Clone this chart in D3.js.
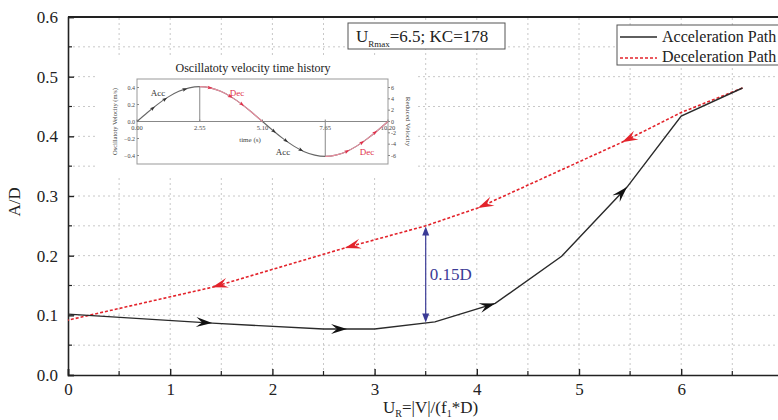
<!DOCTYPE html>
<html><head><meta charset="utf-8">
<script src="https://cdn.jsdelivr.net/npm/d3@7"></script>
<style>
html,body{margin:0;padding:0;background:#fff;}
svg{display:block;font-family:"Liberation Serif","Times New Roman",serif;}
</style></head>
<body>
<svg id="chart" width="778" height="420"></svg>
<script>
// ---- main data ----
const accU = [0, 1.41, 2.5, 3.0, 3.59, 4.18, 4.83, 5.47, 6.0, 6.6];
const accAD = [0.102, 0.087, 0.077, 0.077, 0.089, 0.12, 0.199, 0.315, 0.434, 0.481];
const decU = [6.6, 6.0, 5.42, 4.01, 3.5, 2.71, 1.41, 0];
const decAD = [0.481, 0.44, 0.39, 0.28, 0.25, 0.213, 0.147, 0.092];
const accArrowU = [1.41, 2.73, 4.18, 5.47];
const decArrowU = [5.42, 4.01, 2.71, 1.41];
const gapU = 3.5, gapLow = 0.088, gapHigh = 0.249, gapLabel = "0.15D";
const xTicks = [0, 1, 2, 3, 4, 5, 6];
const yTicks = [0.0, 0.1, 0.2, 0.3, 0.4, 0.5, 0.6];
const legendLabels = ["Acceleration Path", "Deceleration Path"];

// ---- inset data ----
const insetT = [0,0.425,0.85,1.275,1.7,2.125,2.55,2.975,3.4,3.825,4.25,4.675,5.1,5.525,5.95,6.375,6.8,7.225,7.65,8.075,8.5,8.925,9.35,9.775,10.2];
const insetV = [0,0.106,0.205,0.29,0.355,0.396,0.41,0.396,0.355,0.29,0.205,0.106,0,-0.106,-0.205,-0.29,-0.355,-0.396,-0.41,-0.396,-0.355,-0.29,-0.205,-0.106,0];
const insetTimeTicks = [0, 2.55, 5.10, 7.65, 10.20];
const insetTimeLabels = ["0.00", "2.55", "5.10", "7.65", "10.20"];
const insetLeftTicks = [0.4, 0.2, 0.0, -0.2, -0.4];
const insetRightTicks = [6, 4, 2, 0, -2, -4, -6];
const insetAccMarks = [0.65, 1.14, 1.95, 5.57, 6.06, 6.67];
const insetDecMarks = [2.97, 3.8, 4.27, 8.54, 9.15, 9.68];
const decRanges = [[2.55, 5.1], [7.65, 10.2]];

const svg = d3.select("#chart");
const x = d3.scaleLinear().domain([0, 7]).range([68, 783.4]);
const y = d3.scaleLinear().domain([0, 0.6]).range([375, 17]);

// grid
const grid = svg.append("g").attr("stroke", "#c8c8c8").attr("stroke-dasharray", "2,3").attr("stroke-width", 1);
d3.range(1, 14).map(i => i * 0.5).forEach(u => {
  grid.append("line").attr("x1", x(u)).attr("x2", x(u)).attr("y1", y(0)).attr("y2", y(0.6));
});
d3.range(1, 12).map(i => i * 0.05).forEach(v => {
  grid.append("line").attr("x1", x(0)).attr("x2", 783).attr("y1", y(v)).attr("y2", y(v));
});

// axes
const xAxis = d3.axisBottom(x).tickValues(xTicks).tickSize(-6).tickPadding(8).tickFormat(d3.format("d"));
const gx = svg.append("g").attr("transform", `translate(0,${y(0)})`).call(xAxis);
const yAxis = d3.axisLeft(y).tickValues(yTicks).tickSize(-6).tickPadding(10).tickFormat(d3.format(".1f"));
const gy = svg.append("g").attr("transform", `translate(${x(0)},0)`).call(yAxis);
[gx, gy].forEach(g => {
  g.attr("font-family", null);
  g.select(".domain").attr("stroke", "#222").attr("stroke-width", 1.6);
  g.selectAll(".tick line").attr("stroke", "#222").attr("stroke-width", 1.4);
  g.selectAll("text").attr("font-size", 17).attr("fill", "#222").attr("font-family", "Liberation Serif, serif");
});
// minor ticks
d3.range(0, 7).map(i => i + 0.5).forEach(u => {
  svg.append("line").attr("x1", x(u)).attr("x2", x(u)).attr("y1", y(0)).attr("y2", y(0) - 4).attr("stroke", "#222").attr("stroke-width", 1.2);
});
d3.range(0, 6).map(i => i * 0.1 + 0.05).forEach(v => {
  svg.append("line").attr("x1", x(0)).attr("x2", x(0) + 4).attr("y1", y(v)).attr("y2", y(v)).attr("stroke", "#222").attr("stroke-width", 1.2);
});
// top frame
svg.append("line").attr("x1", x(0)).attr("x2", 783).attr("y1", y(0.6)).attr("y2", y(0.6)).attr("stroke", "#222").attr("stroke-width", 2);

// axis titles
svg.append("text").attr("transform", `translate(20,${y(0.29)}) rotate(-90)`).attr("text-anchor", "middle")
  .attr("font-size", 17).attr("fill", "#222").text("A/D");
const xt = svg.append("text").attr("x", 383).attr("y", 413).attr("font-size", 17).attr("fill", "#222");
xt.append("tspan").text("U");
xt.append("tspan").attr("font-size", 10).attr("dy", 4).text("R");
xt.append("tspan").attr("dy", -4).text("=|V|/(f");
xt.append("tspan").attr("font-size", 10).attr("dy", 4).text("1");
xt.append("tspan").attr("dy", -4).text("*D)");

// lines
const accData = accU.map((u, i) => [u, accAD[i]]);
const decData = decU.map((u, i) => [u, decAD[i]]);
const line = d3.line().x(d => x(d[0])).y(d => y(d[1]));
svg.append("path").attr("d", line(decData)).attr("fill", "none").attr("stroke", "#e3232b").attr("stroke-width", 1.6).attr("stroke-dasharray", "3,2");
svg.append("path").attr("d", line(accData)).attr("fill", "none").attr("stroke", "#2a2a2a").attr("stroke-width", 1.4);

function pointOn(data, u) {
  for (let i = 0; i < data.length - 1; i++) {
    const a = data[i], b = data[i + 1];
    const lo = Math.min(a[0], b[0]), hi = Math.max(a[0], b[0]);
    if (u >= lo && u <= hi) {
      const t = (u - a[0]) / (b[0] - a[0]);
      const px = x(a[0]) + t * (x(b[0]) - x(a[0]));
      const py = y(a[1]) + t * (y(b[1]) - y(a[1]));
      const ang = Math.atan2(y(b[1]) - y(a[1]), x(b[0]) - x(a[0])) * 180 / Math.PI;
      return [px, py, ang];
    }
  }
  return [x(u), y(0), 0];
}
const arrowPath = "M0,0 L-16,-5 L-10,0 L-16,5 Z";
accArrowU.forEach(u => {
  const [px, py, a] = pointOn(accData, u);
  svg.append("path").attr("d", arrowPath).attr("fill", "#111").attr("transform", `translate(${px},${py}) rotate(${a})`);
});
decArrowU.forEach(u => {
  const [px, py, a] = pointOn(decData, u);
  svg.append("path").attr("d", arrowPath).attr("fill", "#e3232b").attr("transform", `translate(${px},${py}) rotate(${a})`);
});

// gap double arrow
const navy = "#3b3b96";
svg.append("line").attr("x1", x(gapU)).attr("x2", x(gapU)).attr("y1", y(gapLow) - 3).attr("y2", y(gapHigh) + 3).attr("stroke", navy).attr("stroke-width", 1.2);
svg.append("path").attr("d", `M${x(gapU)},${y(gapLow)} l-3.5,-9 l7,0 Z`).attr("fill", navy);
svg.append("path").attr("d", `M${x(gapU)},${y(gapHigh)} l-3.5,9 l7,0 Z`).attr("fill", navy);
svg.append("text").attr("x", x(gapU) + 4).attr("y", (y(gapLow) + y(gapHigh)) / 2 + 6).attr("font-size", 17).attr("fill", navy).text(gapLabel);

// annotation box
svg.append("rect").attr("x", 348).attr("y", 23).attr("width", 157).attr("height", 26).attr("fill", "#fff").attr("stroke", "#555").attr("stroke-width", 1);
const at = svg.append("text").attr("x", 356).attr("y", 42).attr("font-size", 17).attr("fill", "#222");
at.append("tspan").text("U");
at.append("tspan").attr("font-size", 9).attr("dy", 5).text("Rmax");
at.append("tspan").attr("dy", -5).text("=6.5; KC=178");

// legend
svg.append("rect").attr("x", 617).attr("y", 25).attr("width", 170).attr("height", 40).attr("fill", "#fff").attr("stroke", "#555").attr("stroke-width", 1);
svg.append("line").attr("x1", 620).attr("x2", 657).attr("y1", 37).attr("y2", 37).attr("stroke", "#2a2a2a").attr("stroke-width", 1.4);
svg.append("line").attr("x1", 620).attr("x2", 657).attr("y1", 58).attr("y2", 58).attr("stroke", "#e3232b").attr("stroke-width", 1.6).attr("stroke-dasharray", "3,2");
legendLabels.forEach((l, i) => {
  svg.append("text").attr("x", 662).attr("y", 42 + i * 20).attr("font-size", 16).attr("fill", "#222").text(l);
});

// ---- inset ----
const inset = svg.append("g");
inset.append("rect").attr("x", 98).attr("y", 56).attr("width", 320).attr("height", 121).attr("fill", "#fff");
const ix = d3.scaleLinear().domain([0, 10.2]).range([137, 388]);
const iy = d3.scaleLinear().domain([-0.5, 0.5]).range([164, 79]);
const iyr = d3.scaleLinear().domain([-7.5, 7.5]).range([164, 79]);
inset.append("text").attr("x", 253).attr("y", 72).attr("text-anchor", "middle").attr("font-size", 12).attr("fill", "#222").text("Oscillatoty velocity time history");
inset.append("rect").attr("x", ix(0)).attr("y", iy(0.5)).attr("width", ix(10.2) - ix(0)).attr("height", iy(-0.5) - iy(0.5)).attr("fill", "none").attr("stroke", "#999").attr("stroke-width", 1);
// zero axis
inset.append("line").attr("x1", ix(0)).attr("x2", ix(10.2)).attr("y1", iy(0)).attr("y2", iy(0)).attr("stroke", "#888").attr("stroke-width", 1);
insetTimeTicks.forEach((t, i) => {
  inset.append("line").attr("x1", ix(t)).attr("x2", ix(t)).attr("y1", iy(0)).attr("y2", iy(0) - 2).attr("stroke", "#888");
  inset.append("text").attr("x", ix(t)).attr("y", iy(0) + 8).attr("text-anchor", "middle").attr("font-size", 6.5).attr("fill", "#444").text(insetTimeLabels[i]);
});
insetLeftTicks.forEach(v => {
  inset.append("line").attr("x1", ix(0)).attr("x2", ix(0) + 2).attr("y1", iy(v)).attr("y2", iy(v)).attr("stroke", "#888");
  inset.append("text").attr("x", ix(0) - 2).attr("y", iy(v) + 2).attr("text-anchor", "end").attr("font-size", 6).attr("fill", "#444").text(d3.format(".1f")(v));
});
insetRightTicks.forEach(v => {
  inset.append("line").attr("x1", ix(10.2)).attr("x2", ix(10.2) + 2).attr("y1", iyr(v)).attr("y2", iyr(v)).attr("stroke", "#888");
  inset.append("text").attr("x", ix(10.2) + 3).attr("y", iyr(v) + 2).attr("font-size", 6).attr("fill", "#444").text(v);
});
inset.append("text").attr("transform", `translate(117,${iy(0)}) rotate(-90)`).attr("text-anchor", "middle").attr("font-size", 6.5).attr("fill", "#444").text("Oscillatoty Velocity (m/s)");
inset.append("text").attr("transform", `translate(406,${iy(0)}) rotate(90)`).attr("text-anchor", "middle").attr("font-size", 7).attr("fill", "#444").text("Reduced Velocity");
inset.append("text").attr("x", 250).attr("y", 142).attr("text-anchor", "middle").attr("font-size", 7).attr("fill", "#444").text("time (s)");
// vertical guide lines
inset.append("line").attr("x1", ix(2.55)).attr("x2", ix(2.55)).attr("y1", iy(0.41)).attr("y2", iy(0)).attr("stroke", "#888");
inset.append("line").attr("x1", ix(7.65)).attr("x2", ix(7.65)).attr("y1", iy(0)).attr("y2", iy(-0.41)).attr("stroke", "#888");
// curve
const iData = insetT.map((t, i) => [t, insetV[i]]);
const iline = d3.line().x(d => ix(d[0])).y(d => iy(d[1])).curve(d3.curveNatural);
inset.append("path").attr("d", iline(iData)).attr("fill", "none").attr("stroke", "#666").attr("stroke-width", 1.1);
const defs = svg.append("defs");
const cp = defs.append("clipPath").attr("id", "decClip");
decRanges.forEach(r => cp.append("rect").attr("x", ix(r[0])).attr("y", 70).attr("width", ix(r[1]) - ix(r[0])).attr("height", 110));
inset.append("path").attr("d", iline(iData)).attr("fill", "none").attr("stroke", "#ec8fa0").attr("stroke-width", 1.1).attr("clip-path", "url(#decClip)");
function iPoint(t) {
  for (let i = 0; i < iData.length - 1; i++) {
    const a = iData[i], b = iData[i + 1];
    if (t >= a[0] && t <= b[0]) {
      const f = (t - a[0]) / (b[0] - a[0]);
      const px = ix(a[0]) + f * (ix(b[0]) - ix(a[0]));
      const py = iy(a[1]) + f * (iy(b[1]) - iy(a[1]));
      const ang = Math.atan2(iy(b[1]) - iy(a[1]), ix(b[0]) - ix(a[0])) * 180 / Math.PI;
      return [px, py, ang];
    }
  }
  return [ix(t), iy(0), 0];
}
const smallArrow = "M2.5,0 L-2.5,-1.8 L-1.5,0 L-2.5,1.8 Z";
insetAccMarks.forEach(t => {
  const [px, py, a] = iPoint(t);
  inset.append("path").attr("d", smallArrow).attr("fill", "#333").attr("transform", `translate(${px},${py}) rotate(${a})`);
});
insetDecMarks.forEach(t => {
  const [px, py, a] = iPoint(t);
  inset.append("path").attr("d", smallArrow).attr("fill", "#e0304a").attr("transform", `translate(${px},${py}) rotate(${a})`);
});
const labs = [["Acc", 158, 96, "#333"], ["Dec", 237, 96, "#e0304a"], ["Acc", 283, 155, "#333"], ["Dec", 367, 155, "#e0304a"]];
labs.forEach(l => inset.append("text").attr("x", l[1]).attr("y", l[2]).attr("text-anchor", "middle").attr("font-size", 9).attr("fill", l[3]).text(l[0]));
</script>
</body></html>
